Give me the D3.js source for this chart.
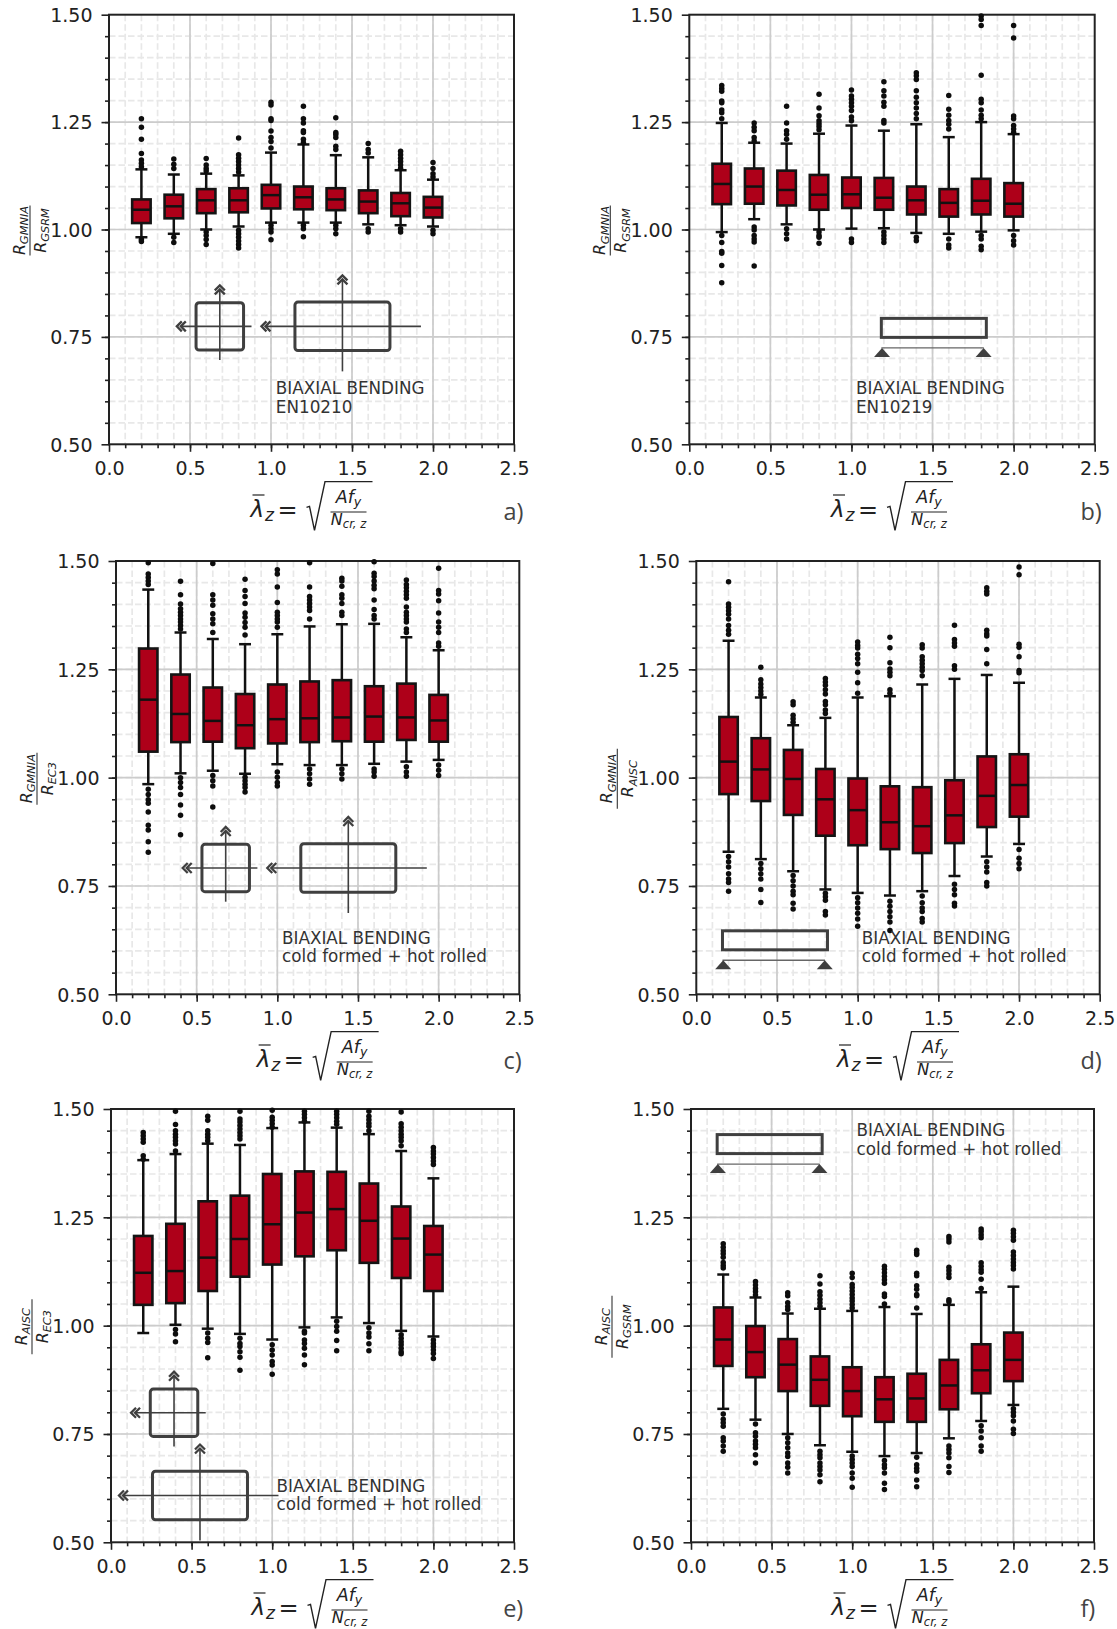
<!DOCTYPE html>
<html>
<head>
<meta charset="utf-8">
<script src="https://cdn.jsdelivr.net/npm/d3@7"></script>
<style>
body { margin: 0; background: #fff; }
svg { display: block; }
text { font-family: "DejaVu Sans", sans-serif; fill: #222; }
</style>
</head>
<body>
<svg width="1117" height="1629"></svg>
<script>
// slenderness classes, shared by all six panels
var slenderness = [0.2, 0.4, 0.6, 0.8, 1.0, 1.2, 1.4, 1.6, 1.8, 2.0];
var xTicks = [0, 0.5, 1, 1.5, 2, 2.5];
var yTicks = [0.5, 0.75, 1, 1.25, 1.5];

// a) GMNIA / GSRM, EN10210
var aQ3 = [1.07, 1.081, 1.094, 1.096, 1.104, 1.1, 1.096, 1.091, 1.085, 1.076];
var aMed = [1.046, 1.054, 1.068, 1.068, 1.08, 1.075, 1.07, 1.065, 1.061, 1.051];
var aQ1 = [1.015, 1.026, 1.038, 1.04, 1.049, 1.047, 1.045, 1.038, 1.031, 1.028];
var aHi = [1.14, 1.128, 1.13, 1.126, 1.179, 1.198, 1.173, 1.168, 1.138, 1.116];
var aLo = [0.982, 0.99, 1.0, 1.007, 1.016, 1.016, 1.016, 1.012, 1.01, 1.007];
var aOut = [
  [1.258, 1.238, 1.21, 1.177, 1.162, 1.154, 1.146, 0.977, 0.972],
  [1.164, 1.152, 1.142, 0.982, 0.97],
  [1.165, 1.15, 1.142, 1.136, 0.994, 0.986, 0.977, 0.965],
  [1.213, 1.174, 1.166, 1.158, 1.15, 1.142, 1.134, 0.998, 0.99, 0.982, 0.973, 0.965, 0.957],
  [1.296, 1.29, 1.258, 1.254, 1.229, 1.214, 1.205, 1.19, 1.01, 1.002, 0.994, 0.976],
  [1.287, 1.258, 1.248, 1.23, 1.226, 1.21, 1.202, 1.01, 1.002, 0.983],
  [1.26, 1.226, 1.221, 1.214, 1.194, 1.186, 1.01, 1.002, 0.99],
  [1.2, 1.186, 1.178, 1.002, 0.994],
  [1.182, 1.174, 1.166, 1.158, 1.15, 1.142, 1.002, 0.994],
  [1.156, 1.142, 1.13, 1.122, 0.998, 0.99]
];

// b) GMNIA / GSRM, EN10219
var bQ3 = [1.153, 1.142, 1.137, 1.127, 1.121, 1.12, 1.1, 1.094, 1.118, 1.108];
var bMed = [1.106, 1.1, 1.092, 1.081, 1.082, 1.074, 1.068, 1.062, 1.067, 1.06];
var bQ1 = [1.059, 1.06, 1.056, 1.046, 1.05, 1.046, 1.035, 1.03, 1.035, 1.03];
var bHi = [1.248, 1.202, 1.2, 1.223, 1.242, 1.23, 1.245, 1.215, 1.25, 1.222];
var bLo = [0.994, 1.024, 1.012, 1.0, 1.002, 1.003, 0.992, 0.99, 0.995, 0.998];
var bOut = [
  [1.335, 1.328, 1.322, 1.299, 1.295, 1.278, 1.272, 1.258, 0.986, 0.97, 0.949, 0.945, 0.916, 0.876],
  [1.248, 1.238, 1.23, 1.214, 1.206, 1.006, 0.999, 0.986, 0.978, 0.971, 0.915],
  [1.287, 1.248, 1.23, 1.222, 1.21, 1.002, 0.99, 0.978],
  [1.315, 1.283, 1.265, 1.253, 1.246, 1.24, 1.232, 0.994, 0.986, 0.982, 0.968],
  [1.325, 1.311, 1.303, 1.295, 1.287, 1.277, 1.262, 1.253, 0.978, 0.97],
  [1.344, 1.323, 1.311, 1.296, 1.287, 1.254, 1.248, 0.994, 0.986, 0.978, 0.97],
  [1.365, 1.358, 1.349, 1.323, 1.308, 1.295, 1.283, 1.27, 1.258, 0.982, 0.974],
  [1.312, 1.28, 1.266, 1.254, 1.245, 1.234, 0.978, 0.964, 0.957],
  [1.497, 1.489, 1.475, 1.359, 1.303, 1.295, 1.278, 1.266, 1.258, 0.986, 0.978, 0.961, 0.953],
  [1.475, 1.446, 1.264, 1.258, 1.242, 1.234, 1.226, 0.986, 0.974, 0.964]
];

// c) GMNIA / EC3
var cQ3 = [1.298, 1.238, 1.208, 1.193, 1.215, 1.222, 1.225, 1.211, 1.217, 1.191];
var cMed = [1.18, 1.147, 1.131, 1.121, 1.135, 1.137, 1.139, 1.141, 1.139, 1.132];
var cQ1 = [1.06, 1.082, 1.083, 1.068, 1.079, 1.082, 1.084, 1.083, 1.087, 1.083];
var cHi = [1.434, 1.335, 1.32, 1.308, 1.331, 1.349, 1.354, 1.355, 1.324, 1.294];
var cLo = [0.985, 1.01, 1.016, 1.009, 1.031, 1.029, 1.029, 1.032, 1.037, 1.041];
var cOut = [
  [1.496, 1.47, 1.462, 1.454, 1.446, 0.973, 0.961, 0.949, 0.941, 0.921, 0.89, 0.879, 0.852, 0.828],
  [1.453, 1.422, 1.401, 1.39, 1.382, 1.374, 1.366, 1.359, 1.351, 1.343, 1.0, 0.989, 0.977, 0.961, 0.937, 0.913, 0.868],
  [1.494, 1.422, 1.41, 1.398, 1.378, 1.366, 1.355, 1.335, 1.005, 0.993, 0.981, 0.932],
  [1.458, 1.432, 1.418, 1.402, 1.38, 1.37, 1.358, 1.347, 1.329, 1.001, 0.993, 0.985, 0.977, 0.967],
  [1.48, 1.47, 1.44, 1.404, 1.382, 1.374, 1.366, 1.359, 1.347, 1.013, 1.001, 0.989, 0.981],
  [1.496, 1.44, 1.418, 1.41, 1.402, 1.394, 1.386, 1.366, 1.02, 1.009, 0.997, 0.985],
  [1.46, 1.454, 1.442, 1.422, 1.414, 1.402, 1.382, 1.374, 1.02, 1.009, 0.997],
  [1.498, 1.472, 1.464, 1.454, 1.444, 1.436, 1.41, 1.388, 1.374, 1.366, 1.02, 1.013, 1.003],
  [1.456, 1.446, 1.438, 1.43, 1.422, 1.414, 1.394, 1.382, 1.374, 1.366, 1.359, 1.343, 1.335, 1.025, 1.013, 1.003],
  [1.483, 1.432, 1.424, 1.408, 1.38, 1.359, 1.347, 1.335, 1.311, 1.303, 1.029, 1.017, 1.005]
];

// d) GMNIA / AISC
var dQ3 = [1.14, 1.091, 1.064, 1.02, 0.998, 0.98, 0.978, 0.994, 1.049, 1.054];
var dMed = [1.037, 1.019, 0.997, 0.95, 0.925, 0.897, 0.888, 0.913, 0.958, 0.983];
var dQ1 = [0.962, 0.946, 0.914, 0.866, 0.844, 0.835, 0.826, 0.849, 0.886, 0.91];
var dHi = [1.316, 1.185, 1.121, 1.138, 1.185, 1.188, 1.215, 1.228, 1.237, 1.219];
var dLo = [0.829, 0.812, 0.784, 0.742, 0.734, 0.728, 0.738, 0.773, 0.818, 0.847];
var dOut = [
  [1.452, 1.401, 1.393, 1.385, 1.377, 1.366, 1.351, 1.34, 1.331, 0.818, 0.806, 0.794, 0.778, 0.766, 0.758, 0.738],
  [1.255, 1.226, 1.216, 1.208, 1.2, 1.192, 0.802, 0.79, 0.778, 0.766, 0.742, 0.712],
  [1.175, 1.168, 1.144, 1.136, 1.128, 0.774, 0.762, 0.75, 0.738, 0.73, 0.71, 0.697],
  [1.229, 1.221, 1.213, 1.203, 1.193, 1.176, 1.168, 1.156, 1.148, 0.733, 0.725, 0.717, 0.691, 0.683],
  [1.313, 1.305, 1.299, 1.285, 1.275, 1.263, 1.243, 1.219, 1.195, 0.723, 0.711, 0.699, 0.687, 0.674, 0.657],
  [1.324, 1.3, 1.265, 1.251, 1.243, 1.235, 1.203, 1.195, 0.715, 0.703, 0.691, 0.679, 0.667, 0.647],
  [1.307, 1.299, 1.279, 1.271, 1.263, 1.255, 1.247, 1.235, 0.727, 0.711, 0.699, 0.691, 0.675, 0.667],
  [1.352, 1.319, 1.311, 1.303, 1.258, 1.25, 0.754, 0.742, 0.73, 0.71, 0.704],
  [1.438, 1.43, 1.424, 1.34, 1.332, 1.327, 1.296, 1.263, 0.806, 0.794, 0.782, 0.758, 0.75],
  [1.486, 1.468, 1.308, 1.301, 1.279, 1.247, 1.242, 0.834, 0.814, 0.802, 0.79]
];

// e) AISC / EC3
var eQ3 = [1.207, 1.235, 1.287, 1.3, 1.35, 1.356, 1.355, 1.328, 1.275, 1.23];
var eMed = [1.122, 1.126, 1.157, 1.2, 1.234, 1.261, 1.269, 1.242, 1.201, 1.164];
var eQ1 = [1.048, 1.052, 1.08, 1.113, 1.141, 1.16, 1.174, 1.145, 1.11, 1.08];
var eHi = [1.382, 1.396, 1.42, 1.417, 1.456, 1.469, 1.457, 1.442, 1.403, 1.34];
var eLo = [0.983, 1.002, 0.993, 0.981, 0.968, 0.996, 1.019, 1.006, 0.988, 0.975];
var eOut = [
  [1.446, 1.438, 1.431, 1.423, 1.392, 1.384],
  [1.495, 1.464, 1.45, 1.442, 1.435, 1.427, 1.419, 1.403, 0.991, 0.981, 0.963],
  [1.483, 1.474, 1.45, 1.442, 1.435, 1.427, 0.983, 0.971, 0.961, 0.926],
  [1.495, 1.477, 1.47, 1.462, 1.454, 1.446, 1.438, 1.431, 0.971, 0.959, 0.952, 0.94, 0.927, 0.897],
  [1.497, 1.481, 1.474, 1.466, 1.458, 0.956, 0.944, 0.932, 0.917, 0.909, 0.888],
  [1.495, 1.488, 1.48, 1.472, 0.987, 0.983, 0.967, 0.959, 0.948, 0.932, 0.91],
  [1.495, 1.488, 1.48, 1.472, 1.465, 1.01, 0.998, 0.987, 0.966, 0.942],
  [1.495, 1.483, 1.475, 1.467, 1.46, 1.45, 0.995, 0.983, 0.974, 0.958, 0.942],
  [1.493, 1.466, 1.458, 1.45, 1.442, 1.435, 1.427, 1.415, 0.979, 0.971, 0.963, 0.956, 0.948, 0.94, 0.935],
  [1.411, 1.403, 1.396, 1.388, 1.38, 1.372, 0.967, 0.959, 0.952, 0.944, 0.936, 0.924]
];

// f) AISC / GSRM
var fQ3 = [1.042, 0.999, 0.969, 0.929, 0.904, 0.881, 0.889, 0.921, 0.957, 0.984];
var fMed = [0.968, 0.939, 0.91, 0.875, 0.849, 0.83, 0.832, 0.862, 0.897, 0.921];
var fQ1 = [0.907, 0.881, 0.849, 0.815, 0.791, 0.778, 0.778, 0.807, 0.844, 0.872];
var fHi = [1.118, 1.065, 1.028, 1.039, 1.034, 1.043, 1.027, 1.048, 1.077, 1.09];
var fLo = [0.808, 0.783, 0.75, 0.724, 0.709, 0.699, 0.706, 0.74, 0.78, 0.817];
var fOut = [
  [1.189, 1.181, 1.173, 1.166, 1.158, 1.146, 1.139, 1.133, 0.796, 0.784, 0.776, 0.768, 0.741, 0.734, 0.722, 0.71],
  [1.102, 1.094, 1.086, 1.079, 1.071, 0.773, 0.753, 0.745, 0.734, 0.726, 0.718, 0.702, 0.683],
  [1.076, 1.069, 1.053, 1.044, 1.037, 0.741, 0.73, 0.718, 0.706, 0.698, 0.683, 0.673, 0.66],
  [1.115, 1.096, 1.078, 1.07, 1.061, 1.053, 1.045, 0.71, 0.702, 0.695, 0.683, 0.675, 0.667, 0.656, 0.64],
  [1.121, 1.111, 1.095, 1.088, 1.08, 1.072, 1.064, 1.057, 1.049, 1.041, 0.699, 0.691, 0.683, 0.675, 0.66, 0.648, 0.627],
  [1.137, 1.13, 1.122, 1.114, 1.106, 1.098, 1.073, 1.067, 1.05, 0.689, 0.679, 0.672, 0.66, 0.636, 0.622],
  [1.174, 1.168, 1.164, 1.121, 1.115, 1.092, 1.084, 1.072, 1.069, 1.041, 0.696, 0.679, 0.671, 0.664, 0.644, 0.628],
  [1.206, 1.2, 1.193, 1.135, 1.127, 1.119, 1.111, 1.06, 1.055, 0.722, 0.714, 0.706, 0.695, 0.675, 0.661],
  [1.223, 1.217, 1.21, 1.203, 1.145, 1.137, 1.129, 1.123, 1.107, 1.086, 0.769, 0.757, 0.741, 0.722, 0.71],
  [1.22, 1.213, 1.205, 1.197, 1.17, 1.162, 1.154, 1.146, 1.139, 1.131, 0.808, 0.8, 0.792, 0.78, 0.761, 0.751]
];

var red = "#ae0019";
var dark = "#3f3f3f";
var svg = d3.select("svg");

var smallSection = [47.5, 47.3, 39, 31.7, 37, 33.7];
var largeSection = [95, 48.5, 77, 78.5, 47, 45];

var panels = [
  {name: "a)", nameDx: 9.5, nameDy: 76, left: 109, right: 514, top: 14.7, bottom: 444.3, q3: aQ3, med: aMed, q1: aQ1, hi: aHi, lo: aLo, out: aOut,
   num: "GMNIA", den: "GSRM", bar: 50, note: ["BIAXIAL BENDING", "EN10210"], noteX: 1.03, noteY: 0.617,
   sections: [[0.684, 0.7745, smallSection], [1.441, 0.7745, largeSection]]},
  {name: "b)", nameDx: 7, nameDy: 76, left: 689.3, right: 1094.7, top: 14.7, bottom: 444.3, q3: bQ3, med: bMed, q1: bQ1, hi: bHi, lo: bLo, out: bOut,
   num: "GMNIA", den: "GSRM", bar: 50, note: ["BIAXIAL BENDING", "EN10219"], noteX: 1.028, noteY: 0.617,
   beam: [1.508, 0.771]},
  {name: "c)", nameDx: 2.4, nameDy: 74.5, left: 116, right: 519.3, top: 561, bottom: 994.3, q3: cQ3, med: cMed, q1: cQ1, hi: cHi, lo: cLo, out: cOut,
   num: "GMNIA", den: "EC3", bar: 52, note: ["BIAXIAL BENDING", "cold formed + hot rolled"], noteX: 1.029, noteY: 0.617,
   sections: [[0.68, 0.7915, smallSection], [1.44, 0.7915, largeSection]]},
  {name: "d)", nameDx: 2, nameDy: 74.5, left: 696.3, right: 1099.7, top: 561, bottom: 994.3, q3: dQ3, med: dMed, q1: dQ1, hi: dHi, lo: dLo, out: dOut,
   num: "GMNIA", den: "AISC", bar: 60, note: ["BIAXIAL BENDING", "cold formed + hot rolled"], noteX: 1.026, noteY: 0.617,
   beam: [0.4876, 0.6246]},
  {name: "e)", nameDx: 9.3, nameDy: 75, left: 111, right: 514, top: 1109, bottom: 1542.3, q3: eQ3, med: eMed, q1: eQ1, hi: eHi, lo: eLo, out: eOut,
   num: "AISC", den: "EC3", bar: 55, note: ["BIAXIAL BENDING", "cold formed + hot rolled"], noteX: 1.027, noteY: 0.617,
   sections: [[0.391, 0.799, smallSection], [0.552, 0.608, largeSection]]},
  {name: "f)", nameDx: 1.3, nameDy: 75, left: 691, right: 1094, top: 1109, bottom: 1542.3, q3: fQ3, med: fMed, q1: fQ1, hi: fHi, lo: fLo, out: fOut,
   num: "AISC", den: "GSRM", bar: 62, note: ["BIAXIAL BENDING", "cold formed + hot rolled"], noteX: 1.027, noteY: 1.437,
   beam: [0.488, 1.419]}
];

panels.forEach(drawPanel);

function drawPanel(p) {
  var x = d3.scaleLinear().domain([0, 2.5]).range([p.left, p.right]);
  var y = d3.scaleLinear().domain([0.5, 1.5]).range([p.bottom, p.top]);
  var g = svg.append("g");

  // minor grid first, then major on top
  var minorX = d3.range(1, 25).map(function (d) { return d / 10; });
  var minorY = d3.range(1, 20).map(function (d) { return 0.5 + d * 0.05; });

  g.append("g").selectAll("line").data(minorX).enter().append("line")
    .attr("x1", x).attr("x2", x).attr("y1", p.top).attr("y2", p.bottom)
    .attr("stroke", "#e8e8e8").attr("stroke-width", 1.7).attr("stroke-dasharray", "6.5,3");
  g.append("g").selectAll("line").data(minorY).enter().append("line")
    .attr("y1", y).attr("y2", y).attr("x1", p.left).attr("x2", p.right)
    .attr("stroke", "#e8e8e8").attr("stroke-width", 1.7).attr("stroke-dasharray", "6.5,3");
  g.append("g").selectAll("line").data(xTicks.slice(1, 5)).enter().append("line")
    .attr("x1", x).attr("x2", x).attr("y1", p.top).attr("y2", p.bottom)
    .attr("stroke", "#cccccc").attr("stroke-width", 1.7);
  g.append("g").selectAll("line").data(yTicks.slice(1, 4)).enter().append("line")
    .attr("y1", y).attr("y2", y).attr("x1", p.left).attr("x2", p.right)
    .attr("stroke", "#cccccc").attr("stroke-width", 1.7);

  if (p.sections) p.sections.forEach(function (s) { drawSection(g, x, y, s); });
  if (p.beam) drawBeam(g, x, y, p.beam);

  // axes
  var axisX = d3.axisBottom(x).tickValues(xTicks).tickFormat(d3.format(".1f")).tickSize(7.5).tickSizeOuter(0);
  var axisY = d3.axisLeft(y).tickValues(yTicks).tickFormat(d3.format(".2f")).tickSize(7.5).tickSizeOuter(0);
  var minorAxisX = d3.axisBottom(x).tickValues(minorX).tickFormat("").tickSize(4).tickSizeOuter(0);
  var minorAxisY = d3.axisLeft(y).tickValues(minorY).tickFormat("").tickSize(4).tickSizeOuter(0);

  g.append("g").attr("transform", "translate(0," + p.bottom + ")").call(minorAxisX).call(styleAxis);
  g.append("g").attr("transform", "translate(" + p.left + ",0)").call(minorAxisY).call(styleAxis);
  g.append("g").attr("transform", "translate(0," + p.bottom + ")").call(axisX).call(styleAxis)
    .selectAll("text").attr("dy", 0).attr("y", 31);
  g.append("g").attr("transform", "translate(" + p.left + ",0)").call(axisY).call(styleAxis)
    .selectAll("text").attr("x", -16.5).attr("dy", "0.36em");

  g.append("rect").attr("x", p.left).attr("y", p.top)
    .attr("width", p.right - p.left).attr("height", p.bottom - p.top)
    .attr("fill", "none").attr("stroke", "#222").attr("stroke-width", 2);

  // boxes
  var boxW = x(0.114) - x(0);
  var capW = x(0.074) - x(0);
  var marks = g.selectAll(".mark").data(slenderness).enter().append("g").attr("class", "mark");

  marks.append("line")
    .attr("x1", x).attr("x2", x)
    .attr("y1", function (d, i) { return y(p.hi[i]); })
    .attr("y2", function (d, i) { return y(p.lo[i]); })
    .attr("stroke", "#111").attr("stroke-width", 2.5);
  [p.hi, p.lo].forEach(function (vals) {
    marks.append("line")
      .attr("x1", function (d) { return x(d) - capW / 2; })
      .attr("x2", function (d) { return x(d) + capW / 2; })
      .attr("y1", function (d, i) { return y(vals[i]); })
      .attr("y2", function (d, i) { return y(vals[i]); })
      .attr("stroke", "#111").attr("stroke-width", 2.5);
  });
  marks.append("rect")
    .attr("x", function (d) { return x(d) - boxW / 2; })
    .attr("width", boxW)
    .attr("y", function (d, i) { return y(p.q3[i]); })
    .attr("height", function (d, i) { return y(p.q1[i]) - y(p.q3[i]); })
    .attr("fill", red).attr("stroke", "#141414").attr("stroke-width", 2.6);
  marks.append("line")
    .attr("x1", function (d) { return x(d) - boxW / 2; })
    .attr("x2", function (d) { return x(d) + boxW / 2; })
    .attr("y1", function (d, i) { return y(p.med[i]); })
    .attr("y2", function (d, i) { return y(p.med[i]); })
    .attr("stroke", "#111").attr("stroke-width", 2.5);
  marks.each(function (d, i) {
    d3.select(this).selectAll("circle").data(p.out[i]).enter().append("circle")
      .attr("cx", x(d)).attr("cy", y).attr("r", 2.75).attr("fill", "#0d0d0d");
  });

  // note next to the sketch
  var note = g.append("text").attr("x", x(p.noteX)).attr("y", y(p.noteY))
    .style("font-size", "16.8px").style("fill", "#333");
  note.selectAll("tspan").data(p.note).enter().append("tspan")
    .attr("x", x(p.noteX)).attr("dy", function (d, i) { return i ? 18.8 : 0; })
    .text(function (d) { return d; });

  drawYLabel(g, p, y);
  drawXLabel(g, p);

  g.append("text").attr("x", p.right + p.nameDx).attr("y", p.bottom + p.nameDy)
    .attr("text-anchor", "end")
    .style("font-family", "'Open Sans', sans-serif").style("font-size", "23.5px").style("fill", "#444")
    .text(p.name);
}

function styleAxis(sel) {
  sel.select(".domain").remove();
  sel.selectAll("line").attr("stroke", "#222").attr("stroke-width", 1.6);
  sel.selectAll("text").style("font-size", "19px").style("fill", "#222");
}

// hollow section with its two axes and double chevrons
function drawSection(g, x, y, s) {
  var cx = x(s[0]), cy = y(s[1]);
  var w = s[2][0], h = s[2][1], aL = s[2][2], aR = s[2][3], aU = s[2][4], aD = s[2][5];

  g.append("rect").attr("x", cx - w / 2).attr("y", cy - h / 2).attr("width", w).attr("height", h)
    .attr("rx", 3).attr("fill", "none").attr("stroke", dark).attr("stroke-width", 3);
  g.append("line").attr("x1", cx - aL).attr("x2", cx + aR).attr("y1", cy).attr("y2", cy)
    .attr("stroke", dark).attr("stroke-width", 1.6);
  g.append("line").attr("x1", cx).attr("x2", cx).attr("y1", cy - aU).attr("y2", cy + aD)
    .attr("stroke", dark).attr("stroke-width", 1.6);
  [0, 4].forEach(function (o) {
    g.append("path").attr("fill", "none").attr("stroke", dark).attr("stroke-width", 2.3)
      .attr("d", "M" + (cx - aL + 5 - o) + "," + (cy - 5) + "L" + (cx - aL - o) + "," + cy + "L" + (cx - aL + 5 - o) + "," + (cy + 5));
    g.append("path").attr("fill", "none").attr("stroke", dark).attr("stroke-width", 2.3)
      .attr("d", "M" + (cx - 5) + "," + (cy - aU + 5 - o) + "L" + cx + "," + (cy - aU - o) + "L" + (cx + 5) + "," + (cy - aU + 5 - o));
  });
}

// flat member over two supports
function drawBeam(g, x, y, b) {
  var cx = x(b[0]), cy = y(b[1]);
  var w = 105, h = 19;

  g.append("rect").attr("x", cx - w / 2).attr("y", cy - h / 2).attr("width", w).attr("height", h)
    .attr("fill", "none").attr("stroke", dark).attr("stroke-width", 3);
  g.append("line").attr("x1", cx - w / 2).attr("x2", cx + 50).attr("y1", cy + 20).attr("y2", cy + 20)
    .attr("stroke", "#666").attr("stroke-width", 1.4);
  [-51.8, 49.8].forEach(function (o) {
    g.append("path").attr("fill", dark)
      .attr("d", "M" + (cx + o - 8) + "," + (cy + 29) + "L" + (cx + o) + "," + (cy + 20) + "L" + (cx + o + 8) + "," + (cy + 29) + "Z");
  });
}

function subText(sel, main, sub, size, drop) {
  sel.style("font-style", "italic").style("font-size", size + "px");
  sel.append("tspan").text(main);
  sel.append("tspan").attr("dy", drop).style("font-size", (size * 0.72) + "px").text(sub);
}

function drawYLabel(g, p, y) {
  var l = g.append("g").attr("transform", "translate(" + (p.left - 79) + "," + (y(1) + 1) + ") rotate(-90)");
  l.append("line").attr("x1", -p.bar / 2).attr("x2", p.bar / 2).attr("stroke", "#333").attr("stroke-width", 1.1);
  l.append("text").attr("y", -5).attr("text-anchor", "middle").call(subText, "R", p.num, 15.8, 3.4);
  l.append("text").attr("y", 16).attr("text-anchor", "middle").call(subText, "R", p.den, 15.8, 3.4);
}

function drawXLabel(g, p) {
  var cx = (p.left + p.right) / 2;
  var l = g.append("g").attr("transform", "translate(" + cx + "," + p.bottom + ")");

  l.append("text").attr("x", -61).attr("y", 73).style("font-style", "italic").style("font-size", "23px").text("λ");
  l.append("line").attr("x1", -59).attr("x2", -47).attr("y1", 50.7).attr("y2", 50.7).attr("stroke", "#222").attr("stroke-width", 1.2);
  l.append("text").attr("x", -46.5).attr("y", 76.7).style("font-style", "italic").style("font-size", "17px").text("z");
  l.append("text").attr("x", -34).attr("y", 74).style("font-size", "24px").text("=");
  l.append("path").attr("fill", "none").attr("stroke", "#222").attr("stroke-width", 1.4)
    .attr("d", "M-5,63L-2,62L3,86L13.5,37.3L61,37.3");
  l.append("text").attr("x", 37).attr("y", 58.3).attr("text-anchor", "middle").call(subText, "Af", "y", 17.5, 3.6);
  l.append("line").attr("x1", 19).attr("x2", 55).attr("y1", 67.7).attr("y2", 67.7).attr("stroke", "#222").attr("stroke-width", 1.1);
  l.append("text").attr("x", 37).attr("y", 81).attr("text-anchor", "middle").call(subText, "N", "cr, z", 16, 2.4);
}
</script>
</body>
</html>
